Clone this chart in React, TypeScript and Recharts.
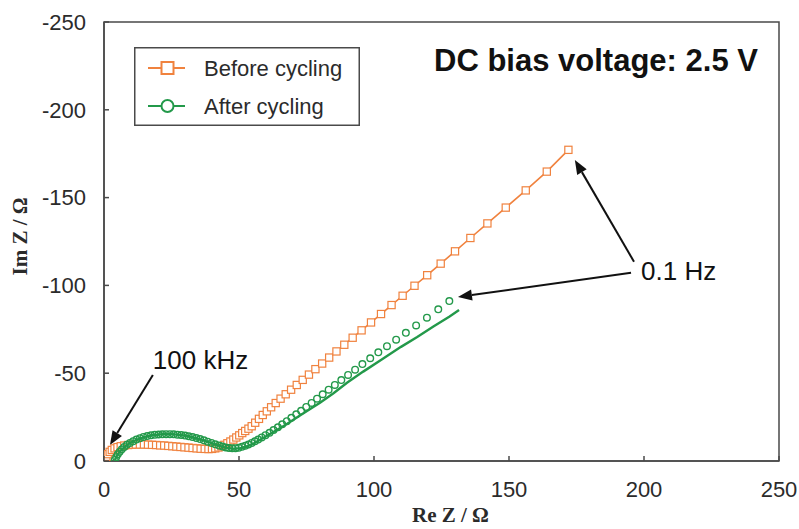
import React from 'react';
import {
  ScatterChart,
  Scatter,
  XAxis,
  YAxis,
  ReferenceArea,
  ReferenceLine,
  ReferenceDot,
  Legend,
  Label,
} from 'recharts';

// Nyquist data, Re Z / Ω and Im Z / Ω
const beforeReZ = [
  0.5, 0.9, 1.4, 2.1, 2.9, 3.9, 5.0, 6.2, 7.5, 8.9, 10.3, 11.8, 13.3, 14.8, 16.3, 17.8, 19.3, 20.8,
  22.3, 23.8, 25.3, 26.8, 28.3, 29.8, 31.3, 32.8, 34.3, 35.8, 37.3, 38.7, 40.0, 41.2, 42.4, 43.5,
  44.6, 45.7, 46.8, 47.9, 49.0, 50.1, 51.2, 52.3, 53.5, 54.7, 56.0, 57.4, 58.8, 60.3, 61.9, 63.6,
  65.4, 67.3, 69.3, 71.4, 73.6, 75.9, 78.3, 80.8, 83.4, 86.1, 89.0, 92.1, 95.4, 98.9, 102.6, 106.5,
  110.6, 115.0, 119.7, 124.7, 130.0, 135.7, 142.0, 148.8, 156.2, 164.0, 172.0,
];
const beforeImZ = [
  -0.8, -2.4, -3.9, -5.2, -6.3, -7.2, -7.9, -8.4, -8.8, -9.1, -9.3, -9.4, -9.4, -9.4, -9.3, -9.2,
  -9.1, -8.9, -8.8, -8.6, -8.4, -8.2, -8.0, -7.8, -7.6, -7.4, -7.2, -7.0, -6.9, -6.8, -6.9, -7.2,
  -7.7, -8.4, -9.2, -10.1, -11.1, -12.2, -13.4, -14.6, -15.9, -17.1, -18.4, -19.8, -21.8, -24.0,
  -26.2, -28.3, -30.6, -33.0, -35.5, -38.0, -40.6, -43.3, -46.2, -49.2, -52.3, -55.5, -58.9, -62.4,
  -66.2, -70.2, -74.4, -78.9, -83.7, -88.8, -94.1, -99.8, -105.8, -112.4, -119.4, -127.0, -135.3,
  -144.3, -154.1, -164.8, -177.2,
];

const afterReZ = [
  4.0, 4.5, 5.1, 5.8, 6.6, 7.5, 8.5, 9.6, 10.8, 12.0, 13.3, 14.6, 16.0, 17.4, 18.8, 20.2, 21.6,
  23.0, 24.4, 25.8, 27.2, 28.6, 30.0, 31.4, 32.8, 34.2, 35.6, 37.0, 38.4, 39.8, 41.2, 42.6, 43.9,
  45.1, 46.3, 47.5, 48.7, 49.9, 51.1, 52.3, 53.5, 54.7, 55.9, 57.1, 58.4, 59.8, 61.3, 62.8, 64.4,
  66.0, 67.7, 69.4, 71.2, 73.0, 74.9, 76.9, 78.9, 81.0, 83.2, 85.5, 87.9, 90.4, 93.0, 95.7, 98.6,
  101.6, 104.8, 108.2, 111.8, 115.6, 119.6, 123.8, 127.9,
];
const afterImZ = [
  -0.6, -2.2, -3.8, -5.3, -6.7, -8.0, -9.2, -10.3, -11.3, -12.2, -13.0, -13.7, -14.2, -14.6, -14.9,
  -15.1, -15.2, -15.3, -15.3, -15.2, -15.0, -14.8, -14.5, -14.1, -13.6, -13.1, -12.5, -11.8, -11.0,
  -10.3, -9.5, -8.8, -8.2, -7.7, -7.4, -7.2, -7.3, -7.6, -8.1, -8.7, -9.4, -10.3, -11.2, -12.2,
  -13.4, -14.7, -16.1, -17.6, -19.2, -20.9, -22.7, -24.6, -26.6, -28.6, -30.8, -33.1, -35.5, -38.0,
  -40.6, -43.3, -46.1, -49.0, -52.0, -55.2, -58.5, -61.9, -65.4, -69.1, -73.0, -77.2, -81.6, -86.4,
  -91.1,
];

// fitted curve for the cycled cell
const afterFitReZ = [
  4.0, 4.8, 6.0, 7.6, 9.6, 12.0, 14.8, 18.0, 21.5, 25.0, 28.5, 32.0, 35.5, 38.8, 42.0, 45.0, 47.8,
  50.5, 53.0, 55.5, 58.0, 61.0, 64.0, 67.0, 70.0, 73.0, 76.5, 80.0, 85.0, 90.0, 96.0, 103.0, 110.0,
  116.0, 122.0, 128.0, 131.5,
];
const afterFitImZ = [
  -0.5, -3.0, -5.6, -8.0, -10.2, -12.1, -13.6, -14.7, -15.2, -15.3, -14.8, -13.8, -12.4, -10.7,
  -9.0, -7.6, -7.0, -7.3, -8.4, -10.1, -12.2, -14.9, -17.6, -20.4, -23.4, -26.4, -29.8, -33.2,
  -38.6, -44.6, -50.9, -57.9, -65.0, -70.6, -76.6, -82.3, -86.0,
];

const xTicks = [0, 50, 100, 150, 200, 250];
const yTicks = [0, -50, -100, -150, -200, -250];
const seriesNames = ['Before cycling', 'After cycling'];

const toRows = (re: number[], im: number[]) => re.map((x, i) => ({ x, y: im[i] }));
const beforeRows = toRows(beforeReZ, beforeImZ);
const afterRows = toRows(afterReZ, afterImZ);
const afterFitRows = toRows(afterFitReZ, afterFitImZ);

const ORANGE = '#F0823E';
const GREEN = '#23994A';
const AXIS = '#4a4a4a';
const TEXT = '#2b2b2b';
const SANS = '"Liberation Sans", Arial, sans-serif';
const SERIF = '"Liberation Serif", "Times New Roman", serif';

const SquareMarker = (p: any) => (
  <rect x={p.cx - 3.6} y={p.cy - 3.6} width={7.2} height={7.2} fill="#fff" stroke={ORANGE} strokeWidth={1.2} />
);
const CircleMarker = (p: any) => (
  <circle cx={p.cx} cy={p.cy} r={3.3} fill="none" stroke={GREEN} strokeWidth={1.4} />
);
const NoMarker = () => <g />;

// inward tick marks, labels outside the frame
const YTick = (p: any) => (
  <g>
    <line x1={p.x + 18} x2={p.x + 23} y1={p.y} y2={p.y} stroke={AXIS} strokeWidth={1.5} />
    <text x={p.x} y={p.y} dy="0.35em" textAnchor="end" fontFamily={SANS} fontSize={22} fill={TEXT}>
      {p.payload.value}
    </text>
  </g>
);
const XTick = (p: any) => (
  <g>
    <line x1={p.x} x2={p.x} y1={p.y - 20} y2={p.y - 25} stroke={AXIS} strokeWidth={1.5} />
    <text x={p.x} y={p.y} dy="0.71em" textAnchor="middle" fontFamily={SANS} fontSize={22} fill={TEXT}>
      {p.payload.value}
    </text>
  </g>
);

const XTitle = (p: any) => {
  const vb = p.viewBox || { x: 104, y: 461, width: 675, height: 68 };
  return (
    <text x={vb.x + vb.width / 2 + 9} y={vb.y + 61} textAnchor="middle" fontFamily={SERIF} fontWeight="bold" fontSize={21} fill={TEXT}>
      Re Z / Ω
    </text>
  );
};
const YTitle = (p: any) => {
  const vb = p.viewBox || { x: 0, y: 22, width: 104, height: 439 };
  const cx = vb.x + 20;
  const cy = vb.y + vb.height / 2 - 5;
  return (
    <text x={cx} y={cy} transform={`rotate(-90 ${cx} ${cy})`} textAnchor="middle" dominantBaseline="central" fontFamily={SERIF} fontWeight="bold" fontSize={21} fill={TEXT}>
      Im Z / Ω
    </text>
  );
};

const Arrow = (p: any) => {
  const { x1, y1, x2, y2 } = p;
  const a = Math.atan2(y2 - y1, x2 - x1);
  const L = 14;
  const W = 5.5;
  const bx = x2 - L * Math.cos(a);
  const by = y2 - L * Math.sin(a);
  const pts = `${x2},${y2} ${bx - W * Math.sin(a)},${by + W * Math.cos(a)} ${bx + W * Math.sin(a)},${by - W * Math.cos(a)}`;
  return (
    <g>
      <line x1={x1} y1={y1} x2={bx} y2={by} stroke="#111" strokeWidth={2} />
      <polygon points={pts} fill="#111" />
    </g>
  );
};

const makeText = (label: string, size: number, anchor: string, weight = 'normal') => (p: any) => (
  <text x={p.cx} y={p.cy} textAnchor={anchor} fontFamily={SANS} fontSize={size} fontWeight={weight} fill="#111">
    {label}
  </text>
);

const LegendBox = () => (
  <svg width={226} height={79} style={{ display: 'block' }}>
    <rect x={0.75} y={0.75} width={224.5} height={77.5} fill="#fff" stroke={AXIS} strokeWidth={1.5} />
    <line x1={14} x2={51} y1={21} y2={21} stroke={ORANGE} strokeWidth={2} />
    <rect x={27.5} y={15} width={12} height={12} fill="#fff" stroke={ORANGE} strokeWidth={2} />
    <text x={70} y={21} dy="0.35em" fontFamily={SANS} fontSize={22} fill={TEXT}>{seriesNames[0]}</text>
    <line x1={14} x2={51} y1={59} y2={59} stroke={GREEN} strokeWidth={2} />
    <circle cx={33.5} cy={59} r={6} fill="#fff" stroke={GREEN} strokeWidth={2} />
    <text x={70} y={59} dy="0.35em" fontFamily={SANS} fontSize={22} fill={TEXT}>{seriesNames[1]}</text>
  </svg>
);

export default function App() {
  return (
    <div style={{ position: 'absolute', left: 0, top: 0, background: '#fff' }}>
      <ScatterChart width={799} height={529} margin={{ top: 22, right: 20, left: 0, bottom: 0 }}>
        <XAxis
          type="number"
          dataKey="x"
          domain={[0, 250]}
          ticks={xTicks}
          tick={XTick}
          tickLine={false}
          tickSize={0}
          tickMargin={20}
          height={68}
          allowDataOverflow
          axisLine={{ stroke: AXIS, strokeWidth: 1.5 }}
        >
          <Label content={XTitle} />
        </XAxis>
        <YAxis
          type="number"
          dataKey="y"
          domain={[-250, 0]}
          reversed
          ticks={yTicks}
          tick={YTick}
          tickLine={false}
          tickSize={0}
          tickMargin={18}
          width={104}
          allowDataOverflow
          axisLine={{ stroke: AXIS, strokeWidth: 1.5 }}
        >
          <Label content={YTitle} />
        </YAxis>
        <ReferenceArea x1={0} x2={250} y1={-250} y2={0} fill="none" stroke={AXIS} strokeWidth={1.5} />

        <Scatter
          name={seriesNames[0]}
          data={beforeRows}
          line={{ stroke: ORANGE, strokeWidth: 1.6 }}
          shape={SquareMarker}
          isAnimationActive={false}
        />
        <Scatter
          name="fit"
          data={afterFitRows}
          line={{ stroke: GREEN, strokeWidth: 2.4 }}
          shape={NoMarker}
          legendType="none"
          isAnimationActive={false}
        />
        <Scatter
          name={seriesNames[1]}
          data={afterRows}
          shape={CircleMarker}
          isAnimationActive={false}
        />

        <ReferenceLine segment={[{ x: 18.1, y: -49 }, { x: 2.2, y: -9.1 }]} shape={Arrow} />
        <ReferenceLine segment={[{ x: 196.3, y: -113.5 }, { x: 174.4, y: -171.4 }]} shape={Arrow} />
        <ReferenceLine segment={[{ x: 195.2, y: -107.2 }, { x: 131.1, y: -93.4 }]} shape={Arrow} />
        <ReferenceDot x={18.1} y={-52.5} r={0} shape={makeText('100 kHz', 26, 'start')} />
        <ReferenceDot x={198.9} y={-103} r={0} shape={makeText('0.1 Hz', 26, 'start')} />
        <ReferenceDot x={242.2} y={-222} r={0} shape={makeText('DC bias voltage: 2.5 V', 31, 'end', 'bold')} />

        <Legend
          layout="vertical"
          align="center"
          verticalAlign="middle"
          content={LegendBox}
          wrapperStyle={{ left: 134, top: 47, width: 226, height: 79 }}
        />
      </ScatterChart>
    </div>
  );
}
